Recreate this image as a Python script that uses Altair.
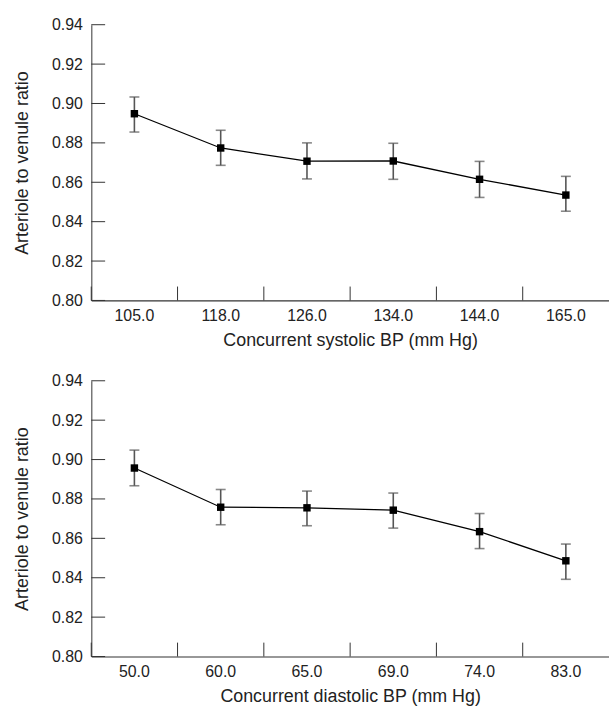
import altair as alt
import pandas as pd

# ---- data ----
sys_bp = ["105.0", "118.0", "126.0", "134.0", "144.0", "165.0"]
sys_mean = [0.8948, 0.8774, 0.8707, 0.8708, 0.8615, 0.8535]
sys_lo = [0.8855, 0.8686, 0.8617, 0.8615, 0.8523, 0.8453]
sys_hi = [0.9033, 0.8864, 0.8800, 0.8798, 0.8706, 0.8630]

dia_bp = ["50.0", "60.0", "65.0", "69.0", "74.0", "83.0"]
dia_mean = [0.8957, 0.8758, 0.8755, 0.8743, 0.8634, 0.8486]
dia_lo = [0.8867, 0.8669, 0.8664, 0.8652, 0.8548, 0.8392]
dia_hi = [0.9048, 0.8848, 0.8840, 0.8830, 0.8726, 0.8571]

y_ticks = [0.80, 0.82, 0.84, 0.86, 0.88, 0.90, 0.92, 0.94]

FONT = "Liberation Sans"
W, H = 518, 278
TICK = 14


def panel(cats, mean, lo, hi, xtitle):
    df = pd.DataFrame({"bp": cats, "mean": mean, "lo": lo, "hi": hi})
    tdf = pd.DataFrame({"t": y_ticks})
    xs = alt.Scale(type="band", domain=cats, paddingInner=0, paddingOuter=0, range=[0, 522])
    ys = alt.Scale(domain=[0.80, 0.94], nice=False, zero=False)
    x_axis = alt.Axis(title=xtitle, labelAngle=0, ticks=False,
                      domainColor="#333", domainWidth=1.2,
                      labelPadding=7, titlePadding=8,
                      labelFont=FONT, titleFont=FONT,
                      labelFontSize=16, titleFontSize=18,
                      labelColor="#222", titleColor="#222",
                      titleFontWeight="normal")
    y_axis = alt.Axis(title="Arteriole to venule ratio", values=y_ticks, format=".2f",
                      ticks=False, grid=False, domainColor="#777", domainWidth=1.5,
                      labelPadding=9, titlePadding=20, labelOverlap=False,
                      labelFont=FONT, titleFont=FONT,
                      labelFontSize=16, titleFontSize=18,
                      labelColor="#222", titleColor="#222",
                      titleFontWeight="normal")
    x = alt.X("bp:O", scale=xs, sort=cats, axis=x_axis)
    base = alt.Chart(df)
    err = base.mark_rule(color="#555", strokeWidth=1.6).encode(
        x=x, y=alt.Y("lo:Q", scale=ys, axis=y_axis), y2="hi:Q")
    cap_lo = base.mark_tick(color="#555", size=10, thickness=1.6).encode(
        x=x, y=alt.Y("lo:Q", scale=ys, axis=y_axis))
    cap_hi = base.mark_tick(color="#555", size=10, thickness=1.6).encode(
        x=x, y=alt.Y("hi:Q", scale=ys, axis=y_axis))
    line = base.mark_line(color="black", strokeWidth=1.3).encode(
        x=x, y=alt.Y("mean:Q", scale=ys, axis=y_axis))
    pts = base.mark_square(color="black", size=56, opacity=1).encode(
        x=x, y=alt.Y("mean:Q", scale=ys, axis=y_axis))
    xt = base.mark_rule(color="#333", strokeWidth=1).encode(
        x=alt.X("bp:O", scale=xs, sort=cats, bandPosition=0, axis=x_axis),
        y=alt.value(H - TICK), y2=alt.value(H))
    yt = alt.Chart(tdf).mark_rule(color="#333", strokeWidth=1).encode(
        y=alt.Y("t:Q", scale=ys, axis=y_axis), x=alt.value(0), x2=alt.value(TICK))
    return alt.layer(err, cap_lo, cap_hi, line, pts, xt, yt).properties(width=W, height=H)


top = panel(sys_bp, sys_mean, sys_lo, sys_hi, "Concurrent systolic BP (mm Hg)")
bottom = panel(dia_bp, dia_mean, dia_lo, dia_hi, "Concurrent diastolic BP (mm Hg)")

chart = alt.vconcat(top, bottom, spacing=24).properties(
    padding={"left": 13, "top": 14, "right": 0, "bottom": 0},
    background="white"
).configure_view(stroke=None)

chart.save("out.html", embed_options={"renderer": "svg", "actions": False})
